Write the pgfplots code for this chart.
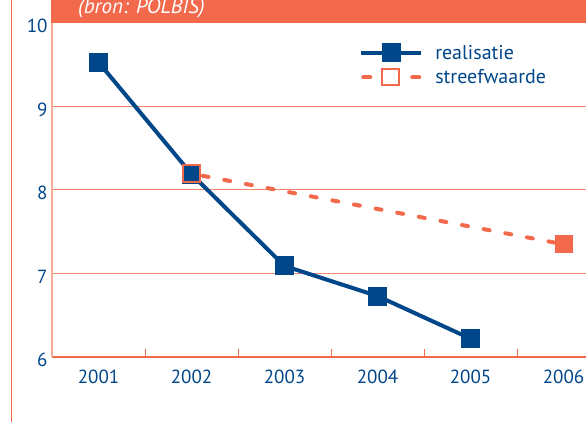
\documentclass[border=0pt]{standalone}
\usepackage{fontspec}
\setmainfont{PT Sans}
\usepackage{pgfplots}
\pgfplotsset{compat=1.18}
\definecolor{realblue}{RGB}{0,71,138}
\definecolor{hdr}{RGB}{242,105,76}
\definecolor{gridc}{RGB}{245,135,110}
\definecolor{salmon}{RGB}{248,170,150}
\begin{document}
\begin{tikzpicture}[x=1pt,y=1pt]
\fill[white] (0,0) rectangle (586,422);
\draw[hdr, line width=1pt] (11.5,0) -- (11.5,422);
\begin{axis}[
  at={(52pt,65pt)}, anchor=south west,
  scale only axis, width=534pt, height=334pt,
  xmin=0.5, xmax=6.242, ymin=6, ymax=10,
  axis x line=bottom, axis y line=left,
  x axis line style={-, hdr, line width=1.3pt},
  y axis line style={-, salmon, line width=1.5pt},
  xtick={1,2,3,4,5,6},
  xticklabels={2001,2002,2003,2004,2005,2006},
  minor xtick={1.5,2.5,3.5,4.5,5.5},
  major x tick style={draw=none},
  minor x tick style={hdr, line width=0.8pt},
  minor tick length=8pt,
  tick align=inside,
  ytick={6,7,8,9,10},
  major y tick style={draw=none},
  ymajorgrids, grid style={gridc, line width=1pt},
  /pgf/number format/assume math mode=true,
  tick label style={font=\fontsize{19}{19}\selectfont, text=realblue},
  xticklabel style={yshift=-9pt},
  yticklabel style={yshift=-3pt, xshift=-1pt},
  legend style={draw=none, fill=none, inner sep=0pt, at={(0.575,0.941)}, anchor=north west,
    font=\fontsize{20}{20}\selectfont, text=realblue, row sep=5pt,
    /tikz/every odd column/.append style={column sep=10pt}},
  legend cell align=left,
  legend image code/.code={\draw[mark repeat=2,mark phase=2,#1] plot coordinates {(0pt,0pt) (30pt,0pt) (60pt,0pt)};},
  clip=false,
]
\addplot[realblue, line width=4pt, mark=square*, mark size=9pt,
  mark options={solid, fill=realblue, draw=realblue, line width=0pt}]
  coordinates {(1,9.53) (2,8.19) (3,7.09) (4,6.73) (5,6.22)};
\addlegendentry{realisatie}
\addplot[hdr, line width=4pt, line cap=round, dash pattern=on 6pt off 16pt, forget plot]
  coordinates {(2.12,8.17) (6,7.35)};
\addplot[only marks, mark=square*, mark size=8.5pt, mark options={fill=hdr, draw=hdr, line width=0pt}, forget plot]
  coordinates {(6,7.35)};
\addplot[only marks, mark=square, mark size=8.5pt, mark options={draw=hdr, line width=2pt}, forget plot]
  coordinates {(2,8.2)};
\addlegendimage{legend image code/.code={
  \draw[hdr, line width=4pt, line cap=round] (2pt,0pt) -- (9pt,0pt);
  \draw[hdr, line width=4pt, line cap=round] (51pt,0pt) -- (58pt,0pt);
  \draw[hdr, line width=2pt, fill=white] (21pt,-8pt) rectangle (38pt,8pt);
}}
\addlegendentry{streefwaarde}
\end{axis}
\fill[hdr] (51,399) rectangle (586,422);
\node[anchor=base west, inner sep=0pt, text=white, font=\itshape\fontsize{21}{21}\selectfont] at (78,408) {(bron: POLBIS)};
\pgfresetboundingbox
\path (0,0) rectangle (586,422);
\end{tikzpicture}
\end{document}
